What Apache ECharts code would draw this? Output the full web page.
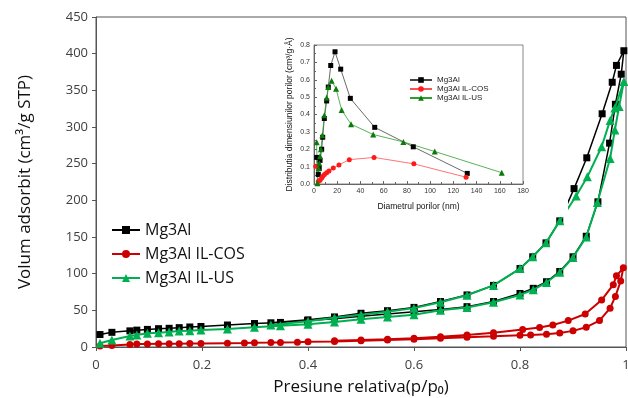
<!DOCTYPE html>
<html>
<head>
<meta charset="utf-8">
<script src="https://cdn.jsdelivr.net/npm/echarts@6/dist/echarts.min.js"></script>
<style>
html,body{margin:0;padding:0;background:#fff;}
#chart{width:628px;height:398px;}
</style>
</head>
<body>
<div id="chart"></div>
<script>
// izoterme (p/p0, volum)
var mg3alP=[0.0075,0.03,0.064,0.077,0.097,0.118,0.138,0.157,0.177,0.198,0.248,0.299,0.348,0.399,0.45,0.5,0.55,0.6,0.65,0.7,0.75,0.8,0.825,0.85,0.875,0.9,0.925,0.947,0.969,0.98,0.991,0.996,
            0.982,0.974,0.955,0.926,0.902,0.875,0.849,0.824,0.8,0.75,0.7,0.65,0.6,0.55,0.5,0.45,0.4,0.33];
var mg3alV=[17,20,22,23,24,25,25.5,26.4,27.3,28,30,32,33.5,36,38.5,42,45,48,51,55,62,73,80,89,103,123,151,198,278,331,372,404,
            384,361,318,258,216,172,142,123,107,84,71,62,54,49.5,46,41,37,33];
var cosP=[0.0075,0.03,0.064,0.077,0.097,0.118,0.138,0.157,0.177,0.198,0.248,0.28,0.299,0.33,0.348,0.38,0.4,0.45,0.5,0.55,0.6,0.65,0.7,0.75,0.8,0.82,0.85,0.875,0.9,0.925,0.95,0.97,0.98,0.99,0.995,
          0.982,0.976,0.954,0.923,0.891,0.862,0.837,0.805,0.75,0.7,0.65,0.6,0.55,0.5,0.45];
var cosV=[1.5,2,3.5,4,4.2,4.4,4.5,4.6,4.7,4.8,5.2,5.5,5.8,6,6.2,6.6,7,7.5,8.6,9.5,10.5,11.8,13.2,14.5,16,16.5,17.5,19,22,27,36,53,69,90,108,
          97,85,64,45,36,30,26.5,24,19.5,16.5,14,12,10.5,9.5,8.5];
var usP=[0.0075,0.03,0.064,0.077,0.097,0.118,0.138,0.157,0.177,0.198,0.248,0.299,0.348,0.4,0.45,0.5,0.55,0.6,0.65,0.7,0.75,0.8,0.825,0.85,0.875,0.9,0.925,0.946,0.97,0.979,0.987,0.996,
         0.979,0.97,0.954,0.927,0.906,0.875,0.849,0.824,0.8,0.75,0.7,0.65,0.6,0.55,0.5,0.45,0.4,0.33];
var usV=[5,9.5,15,16.4,18.6,19.5,20.5,21.8,22.3,23.2,24.5,27,29,31,34,38,41,44,50,54,61,71,78,88,102,122,150,197,257,296,328,362,
         326,309,273,232,206,172,142,123,107,84,70.5,61,53,48,44,40,35,30];

// distributia porilor (nm, valoare)
var psdMgD=[2.3,3.7,4.5,5.2,6.6,7.5,8.9,10.9,12.3,14.4,18.1,23,31.3,52.3,85.5,132];
var psdMgV=[0.153,0.055,0.09,0.136,0.2,0.269,0.377,0.478,0.558,0.682,0.761,0.661,0.493,0.326,0.214,0.061];
var psdCosD=[1.5,3.7,5.2,6.6,7.6,9,10.9,12.9,16.6,21.5,30.4,51.7,86,131];
var psdCosV=[0.102,0.014,0.022,0.035,0.045,0.055,0.065,0.075,0.092,0.11,0.14,0.153,0.116,0.039];
var psdUsD=[2.3,2.9,4,4.6,5.2,6,7.2,8.9,10.9,12.3,15.2,19,23.8,31.9,51,77,104,161.7];
var psdUsV=[0.24,0.005,0.09,0.12,0.16,0.2,0.28,0.395,0.497,0.558,0.594,0.548,0.426,0.344,0.285,0.242,0.187,0.065];

var names=['Mg3Al','Mg3Al IL-COS','Mg3Al IL-US'];
var insetNames=['Mg3Al ','Mg3Al IL-COS ','Mg3Al IL-US '];

function pairs(xs,ys){
    var out=[];
    for(var i=0;i<xs.length;i++){
        out.push([xs[i],ys[i]]);
    }
    return out;
}

var font="'Open Sans', 'Noto Sans', sans-serif";
var inFont="'Liberation Sans', Arial, sans-serif";

var myChart=echarts.init(document.getElementById('chart'),null,{renderer:'canvas'});

var option={
    backgroundColor:'#fff',
    animation:false,
    grid:[
        {left:96,right:2,top:17,bottom:51,show:true,borderColor:'#555',borderWidth:1,z:0,outerBoundsMode:'none'},
        {left:314,right:105,top:45,bottom:214,show:true,borderColor:'#888',borderWidth:1,z:6,outerBoundsMode:'none'}
    ],
    graphic:[{
        type:'rect',z:5,silent:true,
        shape:{x:262,y:27,width:306,height:190},
        style:{fill:'#fff'}
    }],
    legend:[{
        data:names,orient:'vertical',left:106,top:217,itemGap:8,
        itemWidth:28,itemHeight:10,
        textStyle:{fontFamily:font,fontSize:16,color:'#111'}
    },{
        data:insetNames,orient:'vertical',left:404,top:71,itemGap:1,
        itemWidth:22,itemHeight:7,z:10,
        textStyle:{fontFamily:inFont,fontSize:8,color:'#222'}
    }],
    xAxis:[{
        type:'value',gridIndex:0,min:0,max:1,interval:0.2,
        axisLine:{lineStyle:{color:'#555'}},
        axisTick:{show:true,length:4,lineStyle:{color:'#555'}},
        splitLine:{show:false},
        axisLabel:{fontFamily:font,fontSize:13,color:'#404040',margin:12,
            formatter:function(v){return v===0||v===1?String(v):v.toFixed(1);}},
        name:'Presiune relativa(p/p\u2080)',nameLocation:'middle',nameGap:32,
        nameTextStyle:{fontFamily:font,fontSize:17,color:'#111'}
    },{
        type:'value',gridIndex:1,min:0,max:180,interval:20,z:10,
        axisLine:{lineStyle:{color:'#666'}},
        axisTick:{show:true,inside:true,length:3,lineStyle:{color:'#666'}},
        minorTick:{show:true,splitNumber:2,length:2,lineStyle:{color:'#666'}},
        splitLine:{show:false},
        axisLabel:{fontFamily:inFont,fontSize:7,color:'#333',margin:4},
        name:'Diametrul porilor (nm)',nameLocation:'middle',nameGap:18,
        nameTextStyle:{fontFamily:inFont,fontSize:8.5,color:'#111'}
    }],
    yAxis:[{
        type:'value',gridIndex:0,min:0,max:450,interval:50,
        axisLine:{show:true,lineStyle:{color:'#555'}},
        axisTick:{show:true,length:4,lineStyle:{color:'#555'}},
        splitLine:{show:false},
        axisLabel:{fontFamily:font,fontSize:13,color:'#404040',margin:8},
        name:'Volum adsorbit (cm\u00b3/g STP)',nameLocation:'middle',nameGap:62,
        nameTextStyle:{fontFamily:font,fontSize:17,color:'#111'}
    },{
        type:'value',gridIndex:1,min:0,max:0.8,interval:0.1,z:10,
        axisLine:{show:true,lineStyle:{color:'#666'}},
        axisTick:{show:true,inside:true,length:3,lineStyle:{color:'#666'}},
        minorTick:{show:true,splitNumber:2,length:2,lineStyle:{color:'#666'}},
        splitLine:{show:false},
        axisLabel:{fontFamily:inFont,fontSize:7,color:'#333',margin:4,
            formatter:function(v){return v.toFixed(1);}},
        name:'Distributia dimensiunilor porilor (cm\u00b3/g\u00b7\u00c5)',nameLocation:'middle',nameGap:20,
        nameTextStyle:{fontFamily:inFont,fontSize:8.5,color:'#111'}
    }],
    series:[
        {name:names[0],type:'line',xAxisIndex:0,yAxisIndex:0,data:pairs(mg3alP,mg3alV),
            symbol:'rect',symbolSize:7,itemStyle:{color:'#000'},lineStyle:{color:'#000',width:1.5},z:3},
        {name:names[1],type:'line',xAxisIndex:0,yAxisIndex:0,data:pairs(cosP,cosV),
            symbol:'circle',symbolSize:7,itemStyle:{color:'#cc0000'},lineStyle:{color:'#cc0000',width:2},z:2},
        {name:names[2],type:'line',xAxisIndex:0,yAxisIndex:0,data:pairs(usP,usV),
            symbol:'triangle',symbolSize:9,itemStyle:{color:'#00b050'},lineStyle:{color:'#00b050',width:2},z:4},
        {name:insetNames[0],type:'line',xAxisIndex:1,yAxisIndex:1,data:pairs(psdMgD,psdMgV),
            symbol:'rect',symbolSize:5,itemStyle:{color:'#000'},lineStyle:{color:'#444',width:0.8},z:10},
        {name:insetNames[1],type:'line',xAxisIndex:1,yAxisIndex:1,data:pairs(psdCosD,psdCosV),
            symbol:'circle',symbolSize:5,itemStyle:{color:'#ff1a1a'},lineStyle:{color:'#ff5050',width:0.8},z:10},
        {name:insetNames[2],type:'line',xAxisIndex:1,yAxisIndex:1,data:pairs(psdUsD,psdUsV),
            symbol:'triangle',symbolSize:6,itemStyle:{color:'#0a7a0a'},lineStyle:{color:'#2e9e2e',width:0.8},z:10}
    ]
};
myChart.setOption(option);
</script>
</body>
</html>
